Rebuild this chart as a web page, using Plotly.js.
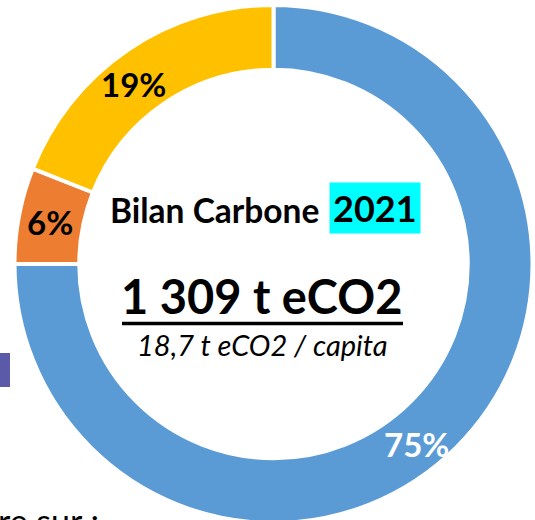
<!DOCTYPE html>
<html>
<head>
<meta charset="utf-8">
<script src="https://cdn.plot.ly/plotly-3.0.1.min.js"></script>
<style>
html,body{margin:0;padding:0;overflow:hidden;background:#fff;width:535px;height:520px;}
#chart{width:535px;height:530px;}
</style>
</head>
<body>
<div id="chart"></div>
<script>
// Data
var categories = ['Poste 1', 'Poste 2', 'Poste 3'];
var shares = [75, 6, 19];
var colors = ['#5B9BD5', '#ED7D31', '#FFC000'];
var titleText = 'Bilan Carbone';
var yearText = '2021';
var totalText = '1 309 t eCO2';
var perCapitaText = '18,7 t eCO2 / capita';

var W = 535, H = 530;
function px(x){ return x / W; }
function py(y){ return (H - y) / H; }

// ring geometry (pixels)
var cx = 273.5, cy = 264, r = 259;

var trace = {
  type: 'pie',
  labels: categories,
  values: shares,
  sort: false,
  direction: 'clockwise',
  rotation: 0,
  hole: 0.75,
  textinfo: 'none',
  hoverinfo: 'label+percent',
  marker: { colors: colors, line: { color: '#ffffff', width: 4 } },
  domain: { x: [px(cx - r), px(cx + r)], y: [py(cy + r), py(cy - r)] },
  showlegend: false
};

var labelPos = [[416, 444], [50, 222], [133, 84]];
var labelColors = ['#ffffff', '#000000', '#000000'];
var FONT = 'Lato, "Open Sans", sans-serif';

var annotations = shares.map(function(v, i){
  return {
    xref: 'paper', yref: 'paper',
    x: px(labelPos[i][0]), y: py(labelPos[i][1]),
    xanchor: 'center', yanchor: 'middle',
    text: '<b>' + v + '%</b>', showarrow: false,
    font: { family: FONT, size: 33, color: labelColors[i] }
  };
});

annotations.push({
  xref: 'paper', yref: 'paper', x: px(108), y: py(210),
  xanchor: 'left', yanchor: 'middle', showarrow: false,
  text: '<b>' + titleText + '</b>',
  font: { family: FONT, size: 33.5, color: '#000' }
});
annotations.push({
  xref: 'paper', yref: 'paper', x: px(375), y: py(208),
  xanchor: 'center', yanchor: 'middle', showarrow: false,
  text: '<b>' + yearText + '</b>',
  bgcolor: '#00FFFF', borderpad: 3,
  font: { family: FONT, size: 36, color: '#000' }
});
annotations.push({
  xref: 'paper', yref: 'paper', x: px(261.5), y: py(296),
  xanchor: 'center', yanchor: 'middle', showarrow: false,
  text: '<b>' + totalText + '</b>',
  font: { family: FONT, size: 47, color: '#000' }
});
annotations.push({
  xref: 'paper', yref: 'paper', x: px(262.5), y: py(344),
  xanchor: 'center', yanchor: 'middle', showarrow: false,
  text: '<i>' + perCapitaText + '</i>',
  font: { family: FONT, size: 29, color: '#000' }
});
annotations.push({
  xref: 'paper', yref: 'paper', x: px(-4), y: py(520),
  xanchor: 'left', yanchor: 'middle', showarrow: false,
  text: 're sur :',
  font: { family: FONT, size: 34, color: '#000' }
});

var layout = {
  width: W, height: H,
  margin: { l: 0, r: 0, t: 0, b: 0 },
  paper_bgcolor: '#ffffff',
  annotations: annotations,
  shapes: [
    { type: 'line', xref: 'paper', yref: 'paper',
      x0: px(122), x1: px(403), y0: py(323.5), y1: py(323.5),
      line: { color: '#000', width: 3.5 } },
    { type: 'rect', xref: 'paper', yref: 'paper',
      x0: px(0), x1: px(10), y0: py(387), y1: py(353),
      fillcolor: '#5A5AA8', line: { width: 0 } }
  ]
};

Plotly.newPlot('chart', [trace], layout, { displayModeBar: false, staticPlot: true });
</script>
</body>
</html>
